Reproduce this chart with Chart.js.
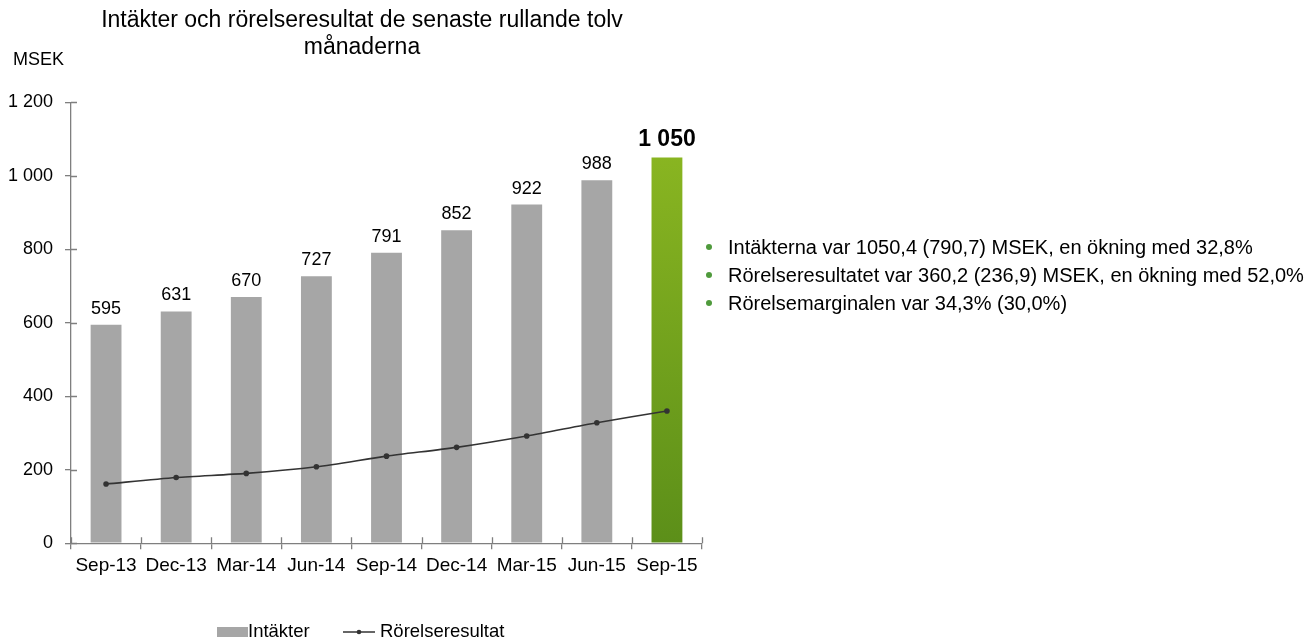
<!DOCTYPE html>
<html>
<head>
<meta charset="utf-8">
<script src="https://cdn.jsdelivr.net/npm/chart.js@4/dist/chart.umd.min.js"></script>
<style>
  body { margin: 0; background: #fff; font-family: "Liberation Sans", Arial, sans-serif; }
  .wrap { position: relative; width: 1316px; height: 638px; }
  .chart-box { position: absolute; left: 0; top: 0; width: 724px; height: 638px; }
  .notes { position: absolute; left: 700px; top: 233px; margin: 0; padding: 0; list-style: none; font-size: 20px; color: #000; }
  .notes li { height: 28px; line-height: 28px; padding-left: 28px; position: relative; white-space: nowrap; }
  .notes li::before { content: ""; position: absolute; left: 6px; top: 11px; width: 6px; height: 6px; border-radius: 50%; background: #4f9a3c; }
</style>
</head>
<body>
<div class="wrap">
  <div class="chart-box"><canvas class="rev-chart"></canvas></div>
  <ul class="notes">
    <li>Intäkterna var  1050,4 (790,7) MSEK, en ökning med 32,8%</li>
    <li>Rörelseresultatet var  360,2 (236,9) MSEK, en ökning med 52,0%</li>
    <li>Rörelsemarginalen var 34,3% (30,0%)</li>
  </ul>
</div>
<script>
const quarters = ['Sep-13', 'Dec-13', 'Mar-14', 'Jun-14', 'Sep-14', 'Dec-14', 'Mar-15', 'Jun-15', 'Sep-15'];
const revenue = [595, 631, 670, 727, 791, 852, 922, 988, 1050];
const operatingProfit = [161, 179, 190, 208, 237, 261, 292, 328, 360];
const yTicks = [0, 200, 400, 600, 800, 1000, 1200];

const FONT = '"Liberation Sans", Arial, sans-serif';
const AXIS = '#7f7f7f';
const TEXT = '#000';
const fmt = v => String(v).replace(/\B(?=(\d{3})+(?!\d))/g, ' ');

document.addEventListener('DOMContentLoaded', function() {
    const ctx = document.querySelector('.rev-chart').getContext('2d');

    // last bar gets a green gradient, the rest are grey
    function barColor(c) {
        if (c.dataIndex !== revenue.length - 1) return '#a6a6a6';
        const area = c.chart.chartArea;
        if (!area) return '#76a21d';
        const g = c.chart.ctx.createLinearGradient(0, area.top, 0, area.bottom);
        g.addColorStop(0, '#8fba22');
        g.addColorStop(1, '#5c8f19');
        return g;
    }

    // inner half of the cross ticks, value labels, MSEK unit and the legend
    const extras = {
        id: 'extras',
        afterDatasetsDraw(chart) {
            const c = chart.ctx;
            const area = chart.chartArea;
            const xs = chart.scales.x, ys = chart.scales.y;
            c.save();
            c.strokeStyle = AXIS;
            c.lineWidth = 1.3;
            c.beginPath();
            yTicks.forEach(v => {
                const y = Math.round(ys.getPixelForValue(v)) + 0.5;
                c.moveTo(area.left, y);
                c.lineTo(area.left + 6, y);
            });
            for (let i = 0; i <= quarters.length; i++) {
                const x = Math.round(xs.getPixelForValue(i - 0.5)) + 0.5;
                c.moveTo(x, area.bottom);
                c.lineTo(x, area.bottom - 6);
            }
            c.stroke();

            const meta = chart.getDatasetMeta(1);
            c.fillStyle = TEXT;
            c.textAlign = 'center';
            c.textBaseline = 'alphabetic';
            meta.data.forEach((bar, i) => {
                const last = i === revenue.length - 1;
                c.font = (last ? 'bold 23px ' : '18px ') + FONT;
                c.fillText(fmt(revenue[i]), bar.x, bar.y - (last ? 12 : 11));
            });
            c.textAlign = 'left';
            c.textBaseline = 'middle';
            c.font = '18px ' + FONT;
            c.fillText('MSEK', 13, 60);

            // legend
            const ly = 632;
            c.fillStyle = '#a6a6a6';
            c.fillRect(217, ly - 5, 31, 10);
            c.fillStyle = TEXT;
            c.font = '18.5px ' + FONT;
            c.fillText('Intäkter', 248, ly);
            c.strokeStyle = '#333';
            c.lineWidth = 1.5;
            c.beginPath();
            c.moveTo(343, ly);
            c.lineTo(375, ly);
            c.stroke();
            c.beginPath();
            c.arc(359, ly, 2.3, 0, Math.PI * 2);
            c.fillStyle = '#333';
            c.fill();
            c.fillStyle = TEXT;
            c.fillText('Rörelseresultat', 380, ly);
            c.restore();
        }
    };

    new Chart(ctx, {
        type: 'bar',
        data: {
            labels: quarters,
            datasets: [{
                type: 'line',
                label: 'Rörelseresultat',
                data: operatingProfit,
                borderColor: '#333',
                borderWidth: 1.6,
                backgroundColor: '#333',
                pointRadius: 2.8,
                pointBorderWidth: 0,
                tension: 0.25,
                order: 0
            }, {
                label: 'Intäkter',
                data: revenue,
                backgroundColor: barColor,
                categoryPercentage: 1,
                barPercentage: 0.44,
                order: 1
            }]
        },
        options: {
            responsive: true,
            maintainAspectRatio: false,
            animation: false,
            layout: { padding: { left: 0, right: 0, bottom: 56, top: 0 } },
            plugins: {
                legend: { display: false },
                tooltip: { enabled: false },
                title: {
                    display: true,
                    text: ['Intäkter och rörelseresultat de senaste rullande tolv', 'månaderna'],
                    color: TEXT,
                    font: { family: FONT, size: 23, weight: 'normal', lineHeight: 1.14 },
                    padding: { top: 8, bottom: 42 }
                }
            },
            scales: {
                y: {
                    min: 0,
                    max: 1200,
                    afterBuildTicks: s => { s.ticks = yTicks.map(v => ({ value: v })); },
                    afterFit: s => { s.width = 71; },
                    border: { color: AXIS, width: 1.3 },
                    grid: { drawOnChartArea: false, tickLength: 6, color: AXIS, lineWidth: 1.3 },
                    ticks: {
                        padding: 12,
                        color: TEXT,
                        font: { family: FONT, size: 18 },
                        callback: v => fmt(v)
                    }
                },
                // empty spacer on the right so the plot ends where the reference does
                spacer: {
                    position: 'right',
                    display: true,
                    afterFit: s => { s.width = 22; },
                    border: { display: false },
                    grid: { display: false },
                    ticks: { display: false }
                },
                x: {
                    border: { color: AXIS, width: 1.3 },
                    grid: { offset: true, drawOnChartArea: false, tickLength: 6, color: AXIS, lineWidth: 1.3 },
                    ticks: {
                        padding: 5,
                        color: TEXT,
                        maxRotation: 0,
                        font: { family: FONT, size: 19 }
                    }
                }
            }
        },
        plugins: [extras]
    });
});
</script>
</body>
</html>
